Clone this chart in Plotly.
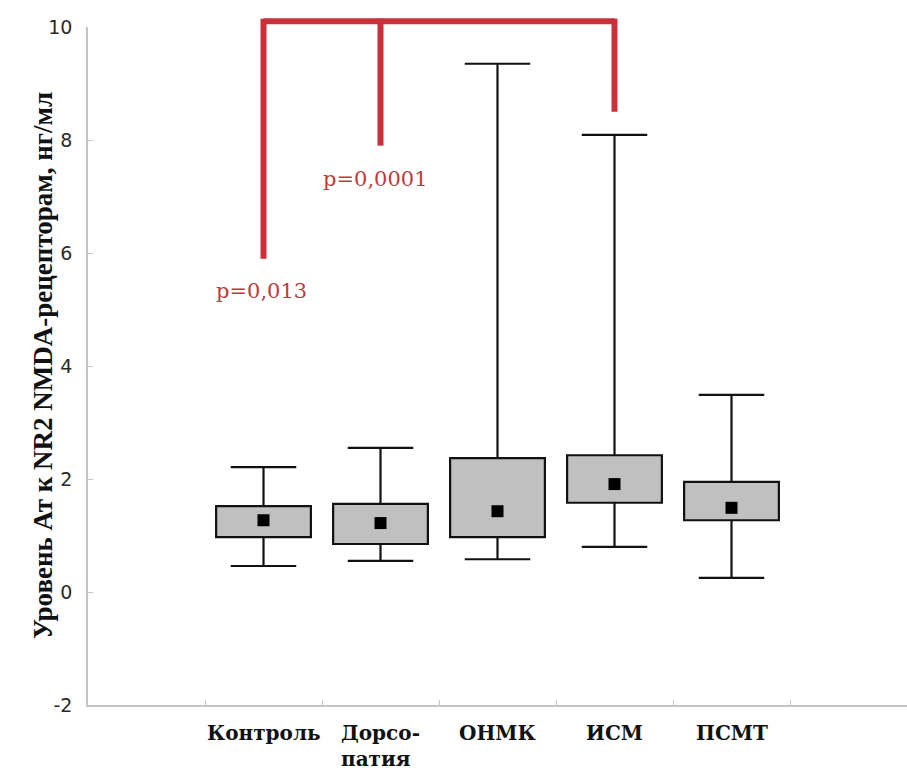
import plotly.graph_objects as go

# Groups and their box-plot statistics (нг/мл)
groups = ["Контроль", "Дорсо-<br>патия", "ОНМК", "ИСМ", "ПСМТ"]
positions = [1, 2, 3, 4, 5]
whisker_low = [0.46, 0.55, 0.58, 0.80, 0.25]
q1 = [0.97, 0.85, 0.97, 1.58, 1.27]
q3 = [1.52, 1.56, 2.37, 2.42, 1.95]
whisker_high = [2.21, 2.55, 9.35, 8.09, 3.49]
means = [1.27, 1.22, 1.43, 1.91, 1.49]

# Significance bracket: which groups are compared and where each leg ends
bracket_x = [1, 2, 4]
bracket_leg_end = [5.9, 7.9, 8.5]
bracket_top = 10.1
p_labels = ["p=0,013", "p=0,0001"]
p_label_x = [0.98, 1.96]
p_label_y = [5.33, 7.31]

y_ticks = [-2, 0, 2, 4, 6, 8, 10]
y_tick_text = ["-2", "0", "2", "4", "6", "8", "10"]
Y_MIN, Y_MAX = -2, 10

BOX_WIDTH = 0.81
CAP_HALF = 0.28
AXIS_GREY = "#c4c4c4"
RED = "#c9303a"

fig = go.Figure()

# Interquartile boxes
fig.add_trace(go.Bar(
    x=positions,
    y=[b - a for a, b in zip(q1, q3)],
    base=q1,
    width=BOX_WIDTH,
    marker=dict(color="#c0c0c0", line=dict(color="#111111", width=2.2)),
    showlegend=False,
    hoverinfo="skip",
))

# Whiskers with caps, outside the boxes
wx, wy = [], []
for x, lo, a, b, hi in zip(positions, whisker_low, q1, q3, whisker_high):
    wx += [x, x, None, x - CAP_HALF, x + CAP_HALF, None]
    wy += [b, hi, None, hi, hi, None]
    wx += [x, x, None, x - CAP_HALF, x + CAP_HALF, None]
    wy += [a, lo, None, lo, lo, None]
fig.add_trace(go.Scatter(
    x=wx, y=wy, mode="lines",
    line=dict(color="#111111", width=2.2),
    showlegend=False, hoverinfo="skip",
))

# Group means
fig.add_trace(go.Scatter(
    x=positions, y=means, mode="markers",
    marker=dict(symbol="square", size=12, color="#000000"),
    showlegend=False,
))


def ydom(v):
    return (v - Y_MIN) / (Y_MAX - Y_MIN)


# Red comparison bracket (drawn in domain units so it can rise above the top of the axis)
fig.add_shape(type="line", xref="x", yref="y domain",
              x0=bracket_x[0], x1=bracket_x[-1], y0=ydom(bracket_top), y1=ydom(bracket_top),
              line=dict(color=RED, width=6))
for bx, end in zip(bracket_x, bracket_leg_end):
    fig.add_shape(type="line", xref="x", yref="y domain",
                  x0=bx, x1=bx, y0=ydom(bracket_top) + 0.004, y1=ydom(end),
                  line=dict(color=RED, width=6))

for txt, px, py in zip(p_labels, p_label_x, p_label_y):
    fig.add_annotation(x=px, y=py, xref="x", yref="y", text=txt, showarrow=False,
                       font=dict(family="DejaVu Serif", size=21, color="#c0393b"))

# Category labels under the axis
for x, g in zip(positions, groups):
    fig.add_annotation(x=x, y=0, xref="x", yref="paper", yanchor="top", yshift=-14,
                       text="<b>%s</b>" % g, showarrow=False, align="left",
                       font=dict(family="DejaVu Serif", size=20, color="#111111"))

# Y axis title
fig.add_annotation(x=0, y=0.5, xref="paper", yref="paper", xshift=-62,
                   text="<b>Уровень Ат к NR2 NMDA-рецепторам, нг/мл</b>",
                   textangle=-90, showarrow=False,
                   font=dict(family="Liberation Serif", size=27, color="#111111"))

fig.update_layout(
    width=907, height=771,
    margin=dict(l=88, r=0, t=27, b=66),
    plot_bgcolor="white", paper_bgcolor="white",
    xaxis=dict(
        range=[-0.5, 6.5], showline=True, linecolor=AXIS_GREY, linewidth=1.5,
        showgrid=False, zeroline=False, showticklabels=False, ticks="",
        tickvals=positions,
        minor=dict(tickmode="array", tickvals=[0.5, 1.5, 2.5, 3.5, 4.5, 5.5],
                   ticks="inside", ticklen=5, tickcolor=AXIS_GREY, tickwidth=1,
                   showgrid=False),
    ),
    yaxis=dict(
        range=[Y_MIN, Y_MAX], tickvals=y_ticks, ticktext=y_tick_text,
        showline=True, linecolor=AXIS_GREY,
        linewidth=1.5, ticks="inside", ticklen=5, tickcolor=AXIS_GREY,
        showgrid=False, zeroline=False, ticklabelstandoff=10,
        tickfont=dict(family="DejaVu Sans", size=19, color="#2a2a2a"),
    ),
)

fig.write_html("out.html")
